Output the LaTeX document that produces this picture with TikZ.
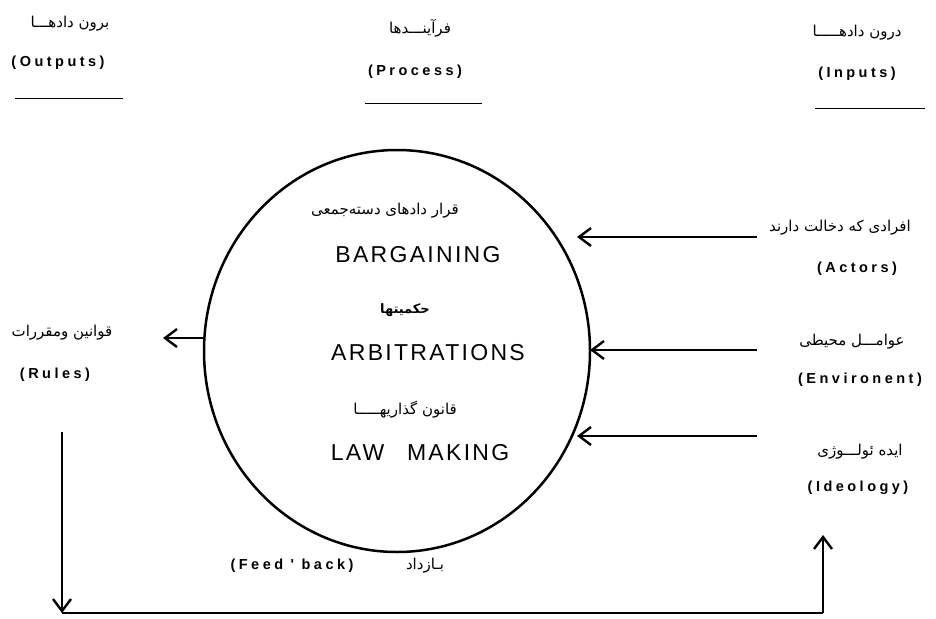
\documentclass[tikz,border=0pt]{standalone}
\usepackage{fontspec}
\setmainfont{Liberation Sans}
\newfontfamily\farsi[Script=Arabic]{DejaVu Sans}
\newfontfamily\spaced[LetterSpace=24]{Liberation Sans}
\newfontfamily\wide[LetterSpace=10]{Liberation Sans}
\TeXXeTstate=1
\usetikzlibrary{arrows.meta,shapes.geometric}

\tikzset{
  fa/.style={font=\farsi\fontsize{15}{18}\selectfont, inner sep=0pt},
  eng/.style={font=\spaced\bfseries\fontsize{14.5}{17}\selectfont, inner sep=0pt},
  big/.style={font=\wide\fontsize{23}{27}\selectfont, inner sep=0pt},
  arr/.style={line width=1.5pt, -{Straight Barb[length=12pt,width=18pt,line width=2.4pt]}},
  uline/.style={line width=1pt},
}

\begin{document}
\begin{tikzpicture}[x=1pt,y=-1pt]
   \useasboundingbox (0,0) rectangle (936,618);
   % column headings
   \node[fa] (outfa) at (70,24) {\beginR برون دادهـــا\endR};
   \node[eng] (outen) at (58,63) {(Outputs)};
   \draw[uline] (15,98) -- (123,98);
   \node[fa] (procfa) at (420,28) {\beginR فرآینـــدها\endR};
   \node[eng] (procen) at (415,72) {(Process)};
   \draw[uline] (365,103) -- (482,103);
   \node[fa] (infa) at (857,33) {\beginR درون دادهـــــا\endR};
   \node[eng] (inen) at (857,74) {(Inputs)};
   \draw[uline] (815,108) -- (925,108);

   % the process
   \node[draw, ellipse, line width=2.5pt, minimum width=386, minimum height=402] (proc) at (397,351) {};
   \node[fa] (bargfa) at (385,211) {\beginR قرار دادهای دسته‌جمعی\endR};
   \node[big] (barg) at (418,255) {BARGAINING};
   \node[fa, font=\farsi\bfseries\fontsize{13}{16}\selectfont] (arbfa) at (405,310) {\beginR حکمیتها\endR};
   \node[big] (arb) at (428,353) {ARBITRATIONS};
   \node[fa] (lawfa) at (405,410) {\beginR قانون گذاریهـــــا\endR};
   \node[big] (law) at (420,453) {LAW\hspace{14pt} MAKING};

   % inputs
   \node[fa] (actfa) at (840,228) {\beginR افرادی که دخالت دارند\endR};
   \node[eng] (acten) at (857,269) {(Actors)};
   \node[fa] (envfa) at (852,342) {\beginR عوامـــل محیطی\endR};
   \node[eng] (enven) at (860,380) {(Environent)};
   \node[fa] (idfa) at (860,452) {\beginR ایده ئولـــوژی\endR};
   \node[eng] (iden) at (858,488) {(Ideology)};
   \coordinate (actS) at (757,237);  \coordinate (actE) at (577,237);
   \coordinate (envS) at (757,350);  \coordinate (envE) at (590,350);
   \coordinate (idS) at (757,436);   \coordinate (idE) at (577,436);
   \draw[arr] (actS) -- (actE);
   \draw[arr] (envS) -- (envE);
   \draw[arr] (idS) -- (idE);

   % outputs
   \node[fa] (rulefa) at (62,333) {\beginR قوانین ومقررات\endR};
   \node[eng] (ruleen) at (55,375) {(Rules)};
   \coordinate (ruleS) at (205,338); \coordinate (ruleE) at (163,338);
   \draw[arr] (ruleS) -- (ruleE);

   % feedback loop
   \coordinate (fbA) at (62,432);
   \coordinate (fbB) at (62,613);
   \coordinate (fbC) at (823,613);
   \coordinate (fbD) at (823,535);
   \draw[arr] (fbA) -- (fbB);
   \draw[line width=1.5pt] (fbB) -- (fbC);
   \draw[arr] (fbC) -- (fbD);
   \node[eng] (fbk) at (292,566) {(Feed ' back)};
   \node[fa] (fbkfa) at (425,566) {\beginR بـازداد\endR};
\end{tikzpicture}
\end{document}
